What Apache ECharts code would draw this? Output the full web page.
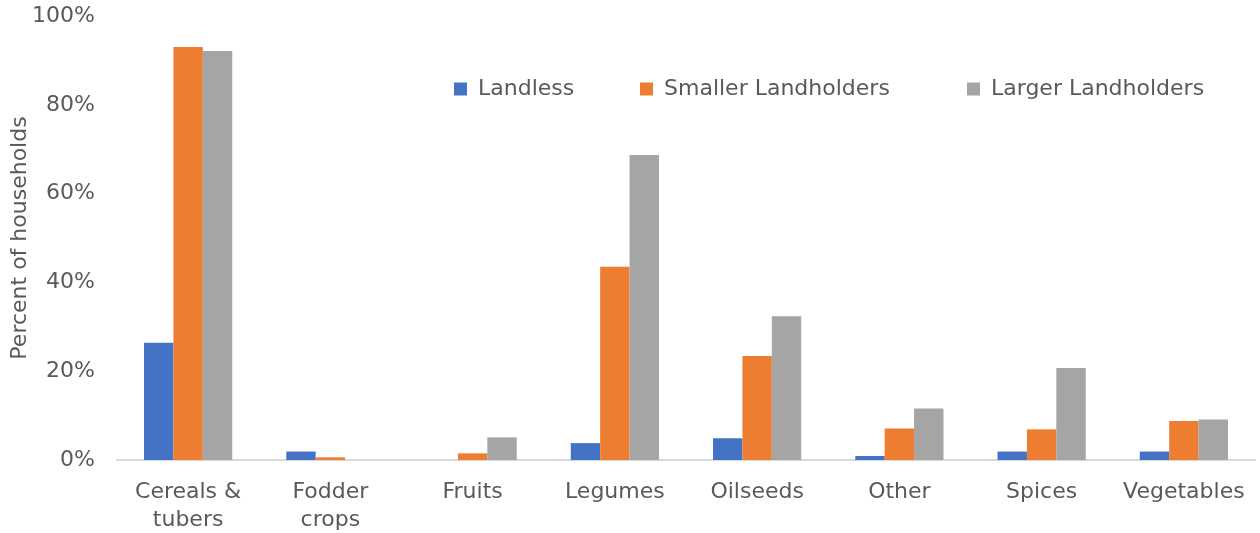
<!DOCTYPE html>
<html><head><meta charset="utf-8">
<script src="https://cdn.jsdelivr.net/npm/echarts@6/dist/echarts.min.js"></script>
<style>html,body{margin:0;padding:0;background:#fff}#c{width:1260px;height:533px}</style>
</head><body><div id="c"></div>
<script>
const categories = ['Cereals &\ntubers', 'Fodder\ncrops', 'Fruits', 'Legumes', 'Oilseeds', 'Other', 'Spices', 'Vegetables'];
const landless = [26.4, 1.9, 0, 3.8, 4.9, 0.9, 1.9, 1.9];
const smaller = [93.0, 0.6, 1.5, 43.5, 23.4, 7.1, 6.9, 8.8];
const larger = [92.1, 0, 5.1, 68.7, 32.4, 11.6, 20.7, 9.1];
const seriesNames = ['Landless', 'Smaller Landholders', 'Larger Landholders'];
const colors = ['#4472c4', '#ed7d31', '#a5a5a5'];
const FONT = 'DejaVu Sans';
const FS = 22;
const legendLefts = [454, 640, 967];
const chart = echarts.init(document.getElementById('c'));
chart.setOption({
  animation: false,
  textStyle: {fontFamily: FONT},
  grid: {left: 117, right: 5, top: 16, bottom: 73, outerBoundsMode: 'none', containLabel: false},
  legend: seriesNames.map((n, i) => ({
    left: legendLefts[i], top: 78, padding: 0, itemWidth: 13, itemHeight: 13,
    icon: 'rect',
    textStyle: {fontFamily: FONT, fontSize: FS, color: '#595959', padding: [0, 0, 0, 6]},
    data: [n]
  })),
  xAxis: {
    type: 'category', data: categories,
    axisLine: {lineStyle: {color: '#d9d9d9', width: 2}},
    axisTick: {show: false},
    axisLabel: {fontFamily: FONT, fontSize: FS, color: '#595959', margin: 18, lineHeight: 28, interval: 0, verticalAlign: 'top'}
  },
  yAxis: {
    type: 'value', min: 0, max: 100, interval: 20,
    name: 'Percent of households', nameLocation: 'middle', nameGap: 86, nameMoveOverlap: false,
    nameTextStyle: {fontFamily: FONT, fontSize: FS, color: '#595959'},
    splitLine: {show: false},
    axisLine: {show: false}, axisTick: {show: false},
    axisLabel: {fontFamily: FONT, fontSize: FS, color: '#595959', margin: 22, formatter: '{value}%'}
  },
  series: [landless, smaller, larger].map((d, i) => ({
    name: seriesNames[i], type: 'bar', data: d,
    barGap: '0%', barCategoryGap: '38%',
    itemStyle: {color: colors[i]}
  }))
});
</script></body></html>
